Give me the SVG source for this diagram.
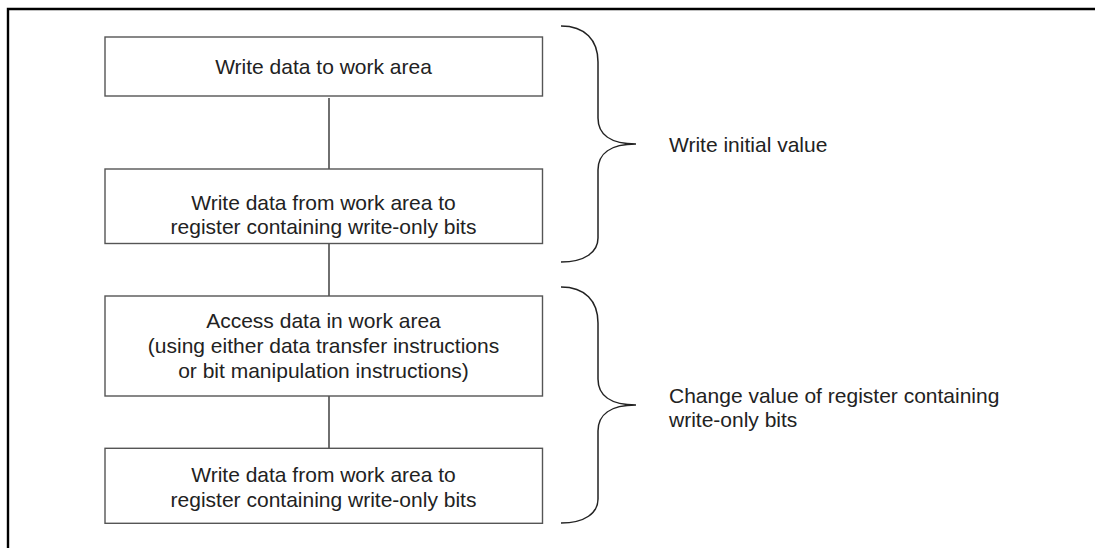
<svg xmlns="http://www.w3.org/2000/svg" width="1095" height="548" viewBox="0 0 1095 548">
<style>
.box{fill:#fff;stroke:#555;stroke-width:1.4}
.t{font-family:"Liberation Sans",Arial,sans-serif;font-size:21px;fill:#222}
.c{text-anchor:middle}
.conn{stroke:#333;stroke-width:1.4;fill:none}
.brace{stroke:#222;stroke-width:1.5;fill:none}
</style>
<rect width="1095" height="548" fill="#fff"/>
<path d="M8,548 L8,9 L1095,9" fill="none" stroke="#000" stroke-width="2.4"/>
<g id="connectors">
<line class="conn" x1="329" y1="98" x2="329" y2="169"/>
<line class="conn" x1="329" y1="244" x2="329" y2="296"/>
<line class="conn" x1="329" y1="396" x2="329" y2="448"/>
</g>
<g id="node1">
<rect class="box" x="105" y="37" width="437.5" height="59"/>
<text class="t c" x="323.5" y="74">Write data to work area</text>
</g>
<g id="node2">
<rect class="box" x="105" y="169" width="437.5" height="74.5"/>
<text class="t c" x="323.5" y="210">Write data from work area to</text>
<text class="t c" x="323.5" y="234">register containing write-only bits</text>
</g>
<g id="node3">
<rect class="box" x="105" y="296" width="437.5" height="100"/>
<text class="t c" x="323.5" y="328">Access data in work area</text>
<text class="t c" x="323.5" y="353">(using either data transfer instructions</text>
<text class="t c" x="323.5" y="378">or bit manipulation instructions)</text>
</g>
<g id="node4">
<rect class="box" x="105" y="448.3" width="437.5" height="75"/>
<text class="t c" x="323.5" y="482">Write data from work area to</text>
<text class="t c" x="323.5" y="506.5">register containing write-only bits</text>
</g>
<g id="brace1">
<path class="brace" d="M561,26 C585,26 598,40 598,62 L598,118 C598,134 610,144 636,144 C610,144 598,154 598,170 L598,238 C598,252 585,262 561,262"/>
<text class="t" x="669" y="152">Write initial value</text>
</g>
<g id="brace2">
<path class="brace" d="M561,287 C585,287 598,301 598,323 L598,379 C598,395 610,405 636,405 C610,405 598,415 598,431 L598,499 C598,513 585,523 561,523"/>
<text class="t" x="669" y="403">Change value of register containing</text>
<text class="t" x="669" y="427">write-only bits</text>
</g>
</svg>
